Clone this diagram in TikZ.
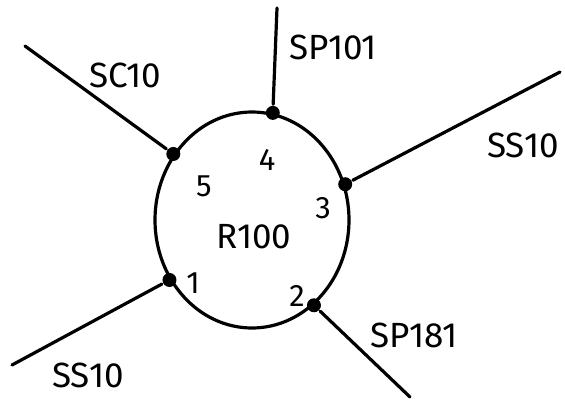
\documentclass[tikz,border=0pt]{standalone}
\usepackage{fontspec}
\setmainfont{Fira Sans}
\usetikzlibrary{shapes.geometric}

\begin{document}
\begin{tikzpicture}[
      x=1pt, y=-1pt,
      line width=3.2pt,
      port/.style={circle, fill, inner sep=0pt, minimum size=14pt},
      wire/.style={line cap=round},
      tag/.style={font=\fontsize{35}{40}\selectfont},
      num/.style={font=\fontsize{31}{34}\selectfont}
    ]
    % frame
    \useasboundingbox (0, 0) rectangle (565, 399);

    % ring
    \node [draw, ellipse, minimum width=194pt, minimum height=216pt, inner sep=0pt] (r) at (252, 220) {};
    \node [tag] (rname) at (254, 237) {R100};

    % ports on the ring
    \foreach \n/\a in {1/216, 2/306, 3/21, 4/79, 5/140} {
      \node [port] (p\n) at (r.\a) {};
    }

    % free ends
    \coordinate (e1) at (12, 365);
    \coordinate (e2) at (410, 397);
    \coordinate (e3) at (560, 72);
    \coordinate (e4) at (277, 8);
    \coordinate (e5) at (25, 46);

    % wires
    \foreach \n in {1, ..., 5} {
      \draw [wire] (p\n) -- (e\n);
    }

    % port numbers
    \node [num] (n1) at (193, 283) {1};
    \node [num] (n2) at (297, 296) {2};
    \node [num] (n3) at (323, 208) {3};
    \node [num] (n4) at (267, 160) {4};
    \node [num] (n5) at (204, 186) {5};

    % wire names
    \node [tag] (t1) at (88, 375) {SS10};
    \node [tag] (t2) at (414, 335) {SP181};
    \node [tag] (t3) at (523, 145) {SS10};
    \node [tag] (t4) at (333, 47) {SP101};
    \node [tag] (t5) at (125, 75) {SC10};
  \end{tikzpicture}
\end{document}
